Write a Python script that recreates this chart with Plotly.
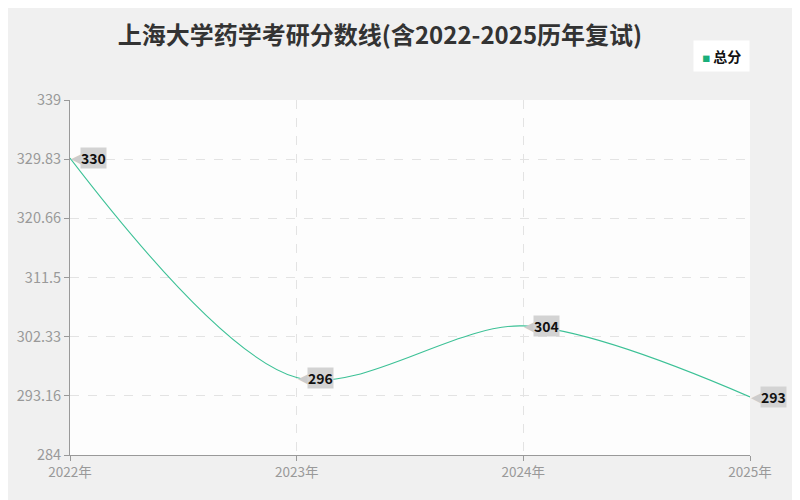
import plotly.graph_objects as go

# data
years = [2022, 2023, 2024, 2025]
year_labels = ['2022年', '2023年', '2024年', '2025年']
scores = [330, 296, 304, 293]
y_ticks = [284, 293.16, 302.33, 311.5, 320.66, 329.83, 339]
y_tick_labels = ['284', '293.16', '302.33', '311.5', '320.66', '329.83', '339']

FONT = 'Noto Sans CJK SC'
LINE_COLOR = '#3cc196'

fig = go.Figure()

fig.add_trace(go.Scatter(
    x=years, y=scores,
    mode='lines',
    line=dict(color=LINE_COLOR, width=1.1, shape='spline', smoothing=0.9),
    name='总分',
    showlegend=False,
    hoverinfo='x+y'
))

# value labels with small pointer on the left
for x, y in zip(years, scores):
    fig.add_annotation(
        x=x, y=y, text='◀', showarrow=False,
        xanchor='left', yanchor='middle', xshift=-1,
        font=dict(size=14, color='#cccccc', family='DejaVu Sans')
    )
    fig.add_annotation(
        x=x, y=y, text='<b>%d</b>' % y, showarrow=False,
        xanchor='left', yanchor='middle', xshift=10,
        bgcolor='#d3d3d3', borderpad=0,
        font=dict(size=14, color='#111111', family=FONT)
    )

# legend box drawn by hand (square marker right beside the text)
fig.add_annotation(
    xref='x domain', yref='y domain', x=1.0, y=1.124,
    xanchor='right', yanchor='middle', showarrow=False,
    text="&nbsp;<span style='color:#1aaf7a;font-size:8px'>■</span> <b>总分</b>&nbsp;",
    bgcolor='#ffffff', borderpad=5,
    font=dict(size=14, color='#111111', family=FONT)
)

fig.update_layout(
    width=800, height=500,
    paper_bgcolor='#f0f0f0',
    plot_bgcolor='#fdfdfd',
    margin=dict(l=62, r=58, t=92, b=53),
    showlegend=False,
    title=dict(
        text='<b>上海大学药学考研分数线(含2022-2025历年复试)</b>',
        x=0.465, xanchor='center', y=0.944, yanchor='middle',
        font=dict(size=24, color='#333333', family=FONT)
    ),
    font=dict(family=FONT),
    hovermode='closest'
)

fig.update_xaxes(
    range=[2022, 2025],
    tickvals=years, ticktext=year_labels,
    showgrid=True, gridcolor='#e3e3e3', griddash='dash', gridwidth=1,
    showline=True, linecolor='#999999', linewidth=1,
    ticks='outside', ticklen=5, tickcolor='#999999',
    tickfont=dict(size=13.5, color='#999999', family=FONT),
    zeroline=False, automargin=False
)
fig.update_yaxes(
    range=[284, 339],
    tickvals=y_ticks, ticktext=y_tick_labels,
    showgrid=True, gridcolor='#e3e3e3', griddash='dash', gridwidth=1,
    showline=True, linecolor='#999999', linewidth=1,
    ticks='outside', ticklen=5, tickcolor='#999999',
    tickfont=dict(size=14.5, color='#999999', family=FONT),
    zeroline=False, automargin=False
)

fig.write_html('out.html')
